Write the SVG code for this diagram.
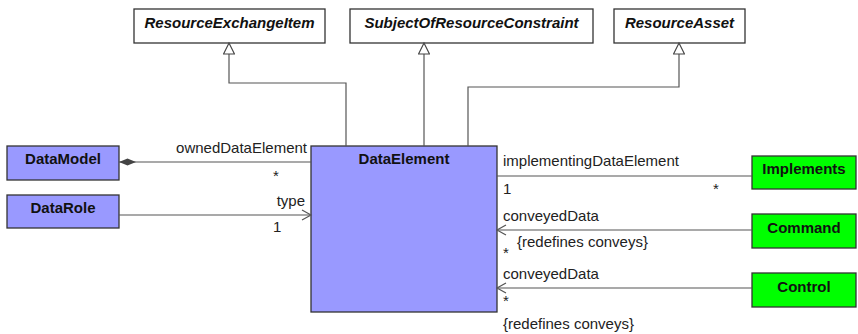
<svg xmlns="http://www.w3.org/2000/svg" width="858" height="334" viewBox="0 0 858 334">
<style>
.box{stroke:#333;stroke-width:1.3}
.abs{fill:#fff}
.blue{fill:#9999ff}
.green{fill:#00ff00}
.bt{font-family:"Liberation Sans",Arial,sans-serif;font-size:15px;font-weight:bold;fill:#111;text-anchor:middle}
.it{font-style:italic}
.lbl{font-family:"Liberation Sans",Arial,sans-serif;font-size:15px;fill:#222}
.ln{fill:none;stroke:#555;stroke-width:1.2}
</style>
<defs>
<marker id="gen" markerWidth="14" markerHeight="12" refX="12" refY="6" orient="auto" markerUnits="userSpaceOnUse">
<path d="M1,0.5 L12,6 L1,11.5 Z" fill="#fff" stroke="#444" stroke-width="1.2"/>
</marker>
<marker id="open" markerWidth="12" markerHeight="12" refX="10" refY="6" orient="auto" markerUnits="userSpaceOnUse">
<path d="M1,1 L10,6 L1,11" fill="none" stroke="#555" stroke-width="1.2"/>
</marker>
<marker id="comp" markerWidth="18" markerHeight="8" refX="17" refY="4" orient="auto" markerUnits="userSpaceOnUse">
<path d="M0,4 L8.5,0.5 L17,4 L8.5,7.5 Z" fill="#444"/>
</marker>
</defs>

<g id="ResourceExchangeItem"><rect class="box abs" x="134" y="9" width="191" height="34"/><text class="bt it" x="229.5" y="28">ResourceExchangeItem</text></g>
<g id="SubjectOfResourceConstraint"><rect class="box abs" x="350" y="9" width="243" height="34"/><text class="bt it" x="471.5" y="28">SubjectOfResourceConstraint</text></g>
<g id="ResourceAsset"><rect class="box abs" x="614" y="9" width="131" height="34"/><text class="bt it" x="679.5" y="28">ResourceAsset</text></g>

<g id="DataElement"><rect class="box blue" x="311" y="146" width="186" height="166"/><text class="bt" x="404" y="164">DataElement</text></g>
<g id="DataModel"><rect class="box blue" x="7" y="146" width="112" height="34"/><text class="bt" x="63" y="164">DataModel</text></g>
<g id="DataRole"><rect class="box blue" x="7" y="195" width="112" height="33"/><text class="bt" x="63" y="213">DataRole</text></g>

<g id="Implements"><rect class="box green" x="752" y="156" width="104" height="33"/><text class="bt" x="804" y="174">Implements</text></g>
<g id="Command"><rect class="box green" x="752" y="214" width="104" height="34"/><text class="bt" x="804" y="233">Command</text></g>
<g id="Control"><rect class="box green" x="752" y="273" width="104" height="34"/><text class="bt" x="804" y="292">Control</text></g>

<g id="connectors">
<path class="ln" d="M346,146 V83 H229 V43" marker-end="url(#gen)"/>
<path class="ln" d="M424,146 V43" marker-end="url(#gen)"/>
<path class="ln" d="M468,146 V87 H679 V43" marker-end="url(#gen)"/>
<path class="ln" d="M311,162 H119" marker-end="url(#comp)"/>
<path class="ln" d="M119,215 H311" marker-end="url(#open)"/>
<path class="ln" d="M497,176 H752"/>
<path class="ln" d="M752,230 H497" marker-end="url(#open)"/>
<path class="ln" d="M752,288 H497" marker-end="url(#open)"/>

<text class="lbl" x="307" y="153" text-anchor="end">ownedDataElement</text>
<text class="lbl" x="273" y="181">*</text>
<text class="lbl" x="305" y="206" text-anchor="end">type</text>
<text class="lbl" x="273" y="232">1</text>
<text class="lbl" x="503" y="166">implementingDataElement</text>
<text class="lbl" x="503" y="194">1</text>
<text class="lbl" x="713" y="194">*</text>
<text class="lbl" x="503" y="221">conveyedData</text>
<text class="lbl" x="503" y="258">*</text>
<text class="lbl" x="517" y="247">{redefines conveys}</text>
<text class="lbl" x="503" y="279">conveyedData</text>
<text class="lbl" x="503" y="306">*</text>
<text class="lbl" x="503" y="329">{redefines conveys}</text>
</g>
</svg>
